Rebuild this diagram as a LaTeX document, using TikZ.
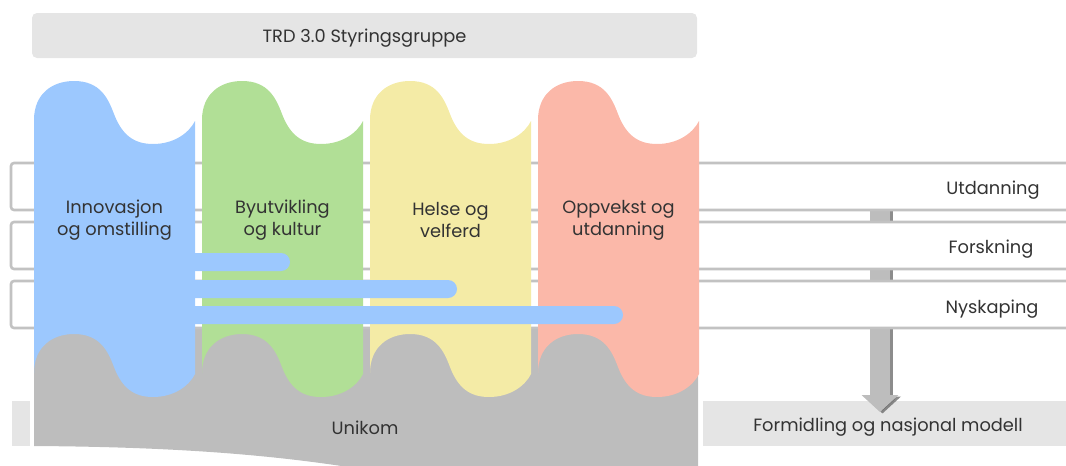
\documentclass[tikz,border=0pt]{standalone}
\usepackage{fontspec}
\setmainfont{Poppins}
\usetikzlibrary{arrows.meta}

\definecolor{ink}{HTML}{333333}
\definecolor{pblue}{HTML}{9CC8FE}
\definecolor{pgreen}{HTML}{B1DF96}
\definecolor{pyellow}{HTML}{F4EBA6}
\definecolor{psalmon}{HTML}{FBB8A9}
\definecolor{unigrey}{HTML}{BDBDBD}
\definecolor{lightgrey}{HTML}{E5E5E5}
\definecolor{bandline}{HTML}{C2C2C2}

% one wavy pillar: left edge x, fill colour
\newcommand\pillar[2]{%
  \fill[#2] (#1,120)
    .. controls (#1,94) and (#1+18,81) .. (#1+40,81)
    .. controls (#1+66,81) and (#1+74,98) .. (#1+80,114)
    .. controls (#1+88,135) and (#1+100,144) .. (#1+119,144)
    .. controls (#1+140,144) and (#1+155,133) .. (#1+161,121)
    -- (#1+161,374)
    .. controls (#1+155,386) and (#1+140,397) .. (#1+119,397)
    .. controls (#1+100,397) and (#1+88,388) .. (#1+80,367)
    .. controls (#1+74,351) and (#1+66,334) .. (#1+40,334)
    .. controls (#1+18,334) and (#1,347) .. (#1,373) -- cycle;}

% one horizontal band, open to the right
\newcommand\band[2]{%
  \draw[bandstyle] (1075,#1) -- (11,#1) -- (11,#2) -- (1075,#2);}

\tikzset{
  txt/.style={text=ink, font=\fontsize{17.8}{22}\selectfont, align=center, inner sep=0pt},
  greybox/.style={fill=lightgrey, draw=none, inner sep=0pt},
  bandstyle/.style={draw=bandline, line width=2.6pt, fill=white, rounded corners=3pt},
  crossbar/.style={fill=pblue, rounded corners=9pt},
  fat/.style={line width=20pt, -{Triangle[length=17pt,width=36pt]}},
}

\begin{document}
\begin{tikzpicture}[x=1pt,y=-1pt]
\useasboundingbox (0,0) rectangle (1066,466);

% steering group header
\node[greybox, rounded corners=5pt, minimum width=665pt, minimum height=45pt] (styr) at (364.5,35.5) {};
\node[txt] (styrtxt) at (364.5,38) {TRD 3.0 Styringsgruppe};

% dissemination strip
\fill[lightgrey] (12,401) rectangle (30,446);
\node[greybox, minimum width=363pt, minimum height=45pt] (fm) at (884.5,423.5) {};

% downward arrow towards dissemination
\coordinate (atop) at (880,180);
\coordinate (tip) at (880,412);
\begin{scope}[transform canvas={xshift=2.5pt,yshift=-1.5pt}]
  \draw[fat, draw=black!60, fill=black!60, opacity=0.75] (atop) -- (tip);
\end{scope}
\draw[fat, draw=unigrey, fill=unigrey] (atop) -- (tip);

% Unikom base
\fill[unigrey] (34,326) -- (698,326) -- (698,480) -- (420,480)
  .. controls (300,455) and (180,447) .. (34,446) -- cycle;

% horizontal bands
\band{163}{210}
\band{222}{269}
\band{281}{328}

% pillars
\pillar{34}{pblue}
\pillar{202}{pgreen}
\pillar{370}{pyellow}
\pillar{538}{psalmon}

% cross links from the first pillar
\fill[crossbar] (150,253) rectangle (290,271);
\fill[crossbar] (150,280) rectangle (457,298);
\fill[crossbar] (150,306) rectangle (623,324);

% labels
\node[txt] (inno) at (114.5,220) {Innovasjon\\og omstilling};
\node[txt] (byut) at (282.5,220) {Byutvikling\\og kultur};
\node[txt] (helse) at (450.5,220) {Helse og\\velferd};
\node[txt] (oppv) at (618.5,220) {Oppvekst og\\utdanning};

\node[txt] (utd) at (993,190) {Utdanning};
\node[txt] (fors) at (991,249) {Forskning};
\node[txt] (nysk) at (992,309) {Nyskaping};

\node[txt] (uni) at (365,428) {Unikom};
\node[txt] (fmtxt) at (888,427) {Formidling og nasjonal modell};
\end{tikzpicture}
\end{document}
